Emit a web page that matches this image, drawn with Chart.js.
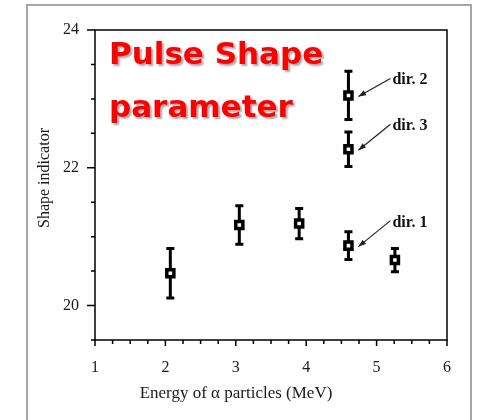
<!DOCTYPE html>
<html>
<head>
<meta charset="utf-8">
<script src="https://cdn.jsdelivr.net/npm/chart.js@4/dist/chart.umd.min.js"></script>
<style>
    html, body { margin: 0; padding: 0; background: #fff; }
    #wrap { position: relative; width: 477px; height: 420px; }
    #frame {
        position: absolute; left: 26px; top: 4px; width: 446px; height: 430px;
        border: 2px solid #a6a6a6; box-sizing: border-box;
    }
    canvas { position: absolute; left: 0; top: 0; }
</style>
</head>
<body>
<div id="wrap">
    <div id="frame"></div>
    <canvas id="chart" width="477" height="420"></canvas>
</div>
<script>
// ---- data ----
const energies = [2.07, 3.05, 3.90, 4.60, 4.60, 4.60, 5.26];
const shapeValues = [20.47, 21.17, 21.19, 23.05, 22.27, 20.87, 20.66];
const shapeErrors = [0.36, 0.28, 0.22, 0.35, 0.25, 0.20, 0.17];
const yTickLabels = [20, 22, 24];
const xTickLabels = [1, 2, 3, 4, 5, 6];
const dirLabels = ['dir. 2', 'dir. 3', 'dir. 1'];
const dirPoints = [3, 4, 5];          // index into the arrays above
const dirLabelDy = [-11, -19, -19];   // label baseline offset (px)

const serif = '"Liberation Serif", "Times New Roman", serif';

// ---- plugin: plot box, ticks, error bars, labels ----
const decorations = {
    id: 'decorations',
    beforeDatasetsDraw(chart) {
        const ctx = chart.ctx;
        const x = chart.scales.x, y = chart.scales.y;
        ctx.save();
        ctx.strokeStyle = '#000';
        ctx.lineWidth = 3;
        energies.forEach((e, i) => {
            const px = x.getPixelForValue(e);
            const top = y.getPixelForValue(shapeValues[i] + shapeErrors[i]);
            const bot = y.getPixelForValue(shapeValues[i] - shapeErrors[i]);
            ctx.beginPath();
            ctx.moveTo(px, top); ctx.lineTo(px, bot);
            ctx.moveTo(px - 4, top); ctx.lineTo(px + 4, top);
            ctx.moveTo(px - 4, bot); ctx.lineTo(px + 4, bot);
            ctx.stroke();
        });
        ctx.restore();
    },
    afterDraw(chart) {
        const ctx = chart.ctx;
        const a = chart.chartArea;
        const x = chart.scales.x, y = chart.scales.y;
        ctx.save();

        // box
        ctx.strokeStyle = '#000';
        ctx.lineWidth = 1.5;
        ctx.strokeRect(a.left, a.top, a.right - a.left, a.bottom - a.top);

        // ticks
        ctx.beginPath();
        y.ticks.forEach(t => {
            const py = y.getPixelForValue(t.value);
            const len = yTickLabels.includes(t.value) ? 8 : 4;
            ctx.moveTo(a.left - len, py); ctx.lineTo(a.left, py);
        });
        x.ticks.forEach(t => {
            const px = x.getPixelForValue(t.value);
            const len = xTickLabels.includes(t.value) ? 6 : 4;
            ctx.moveTo(px, a.bottom); ctx.lineTo(px, a.bottom + len);
        });
        ctx.stroke();

        // axis titles
        ctx.fillStyle = '#1a1a1a';
        ctx.font = '17px ' + serif;
        ctx.textAlign = 'center';
        ctx.textBaseline = 'alphabetic';
        ctx.fillText('Energy of \u03b1 particles (MeV)', 236, 398);
        ctx.save();
        ctx.translate(49, 178);
        ctx.rotate(-Math.PI / 2);
        ctx.font = '16px ' + serif;
        ctx.fillText('Shape indicator', 0, 0);
        ctx.restore();

        // direction labels with arrows
        ctx.font = 'bold 16px ' + serif;
        ctx.textAlign = 'left';
        dirLabels.forEach((lab, k) => {
            const i = dirPoints[k];
            const px = x.getPixelForValue(energies[i]);
            const py = y.getPixelForValue(shapeValues[i]);
            ctx.fillStyle = '#111';
            ctx.fillText(lab, px + 44, py + dirLabelDy[k]);
            const x1 = px + 42, y1 = py + dirLabelDy[k] - 6;
            const x2 = px + 10, y2 = py + 1;
            ctx.strokeStyle = '#222';
            ctx.lineWidth = 1.2;
            ctx.beginPath();
            ctx.moveTo(x1, y1); ctx.lineTo(x2, y2);
            ctx.stroke();
            const ang = Math.atan2(y2 - y1, x2 - x1);
            ctx.fillStyle = '#222';
            ctx.beginPath();
            ctx.moveTo(x2, y2);
            ctx.lineTo(x2 - 8 * Math.cos(ang - 0.35), y2 - 8 * Math.sin(ang - 0.35));
            ctx.lineTo(x2 - 8 * Math.cos(ang + 0.35), y2 - 8 * Math.sin(ang + 0.35));
            ctx.closePath();
            ctx.fill();
        });

        // big red title
        ctx.font = 'bold 31px "DejaVu Sans", sans-serif';
        ctx.fillStyle = '#ff0000';
        ctx.shadowColor = 'rgba(0,0,0,0.35)';
        ctx.shadowOffsetX = 2;
        ctx.shadowOffsetY = 2;
        ctx.shadowBlur = 2;
        ctx.fillText('Pulse Shape', 109, 64);
        ctx.fillText('parameter', 109, 117);
        ctx.restore();
    }
};

new Chart(document.getElementById('chart'), {
    type: 'scatter',
    data: {
        datasets: [{
            data: energies.map((e, i) => ({ x: e, y: shapeValues[i] })),
            pointStyle: 'rect',
            pointRadius: 5,
            pointBorderWidth: 3.5,
            pointBackgroundColor: '#fff',
            pointBorderColor: '#000'
        }]
    },
    options: {
        responsive: false,
        animation: false,
        layout: { padding: { left: 0, top: 30, right: 30, bottom: 0 } },
        plugins: {
            legend: { display: false },
            tooltip: { enabled: false }
        },
        scales: {
            x: {
                type: 'linear',
                min: 1,
                max: 6,
                afterFit: s => { s.height = 80; },
                grid: { display: false, drawTicks: false },
                border: { display: false },
                ticks: {
                    stepSize: 0.25,
                    autoSkip: false,
                    maxRotation: 0,
                    padding: 18,
                    color: '#1a1a1a',
                    font: { family: serif, size: 16 },
                    callback: v => xTickLabels.includes(v) ? String(v) : ''
                }
            },
            y: {
                min: 19.5,
                max: 24,
                afterFit: s => { s.width = 95; },
                grid: { display: false, drawTicks: false },
                border: { display: false },
                ticks: {
                    stepSize: 0.5,
                    autoSkip: false,
                    padding: 16,
                    color: '#1a1a1a',
                    font: { family: serif, size: 16 },
                    callback: v => yTickLabels.includes(v) ? String(v) : ''
                }
            }
        }
    },
    plugins: [decorations]
});
</script>
</body>
</html>
